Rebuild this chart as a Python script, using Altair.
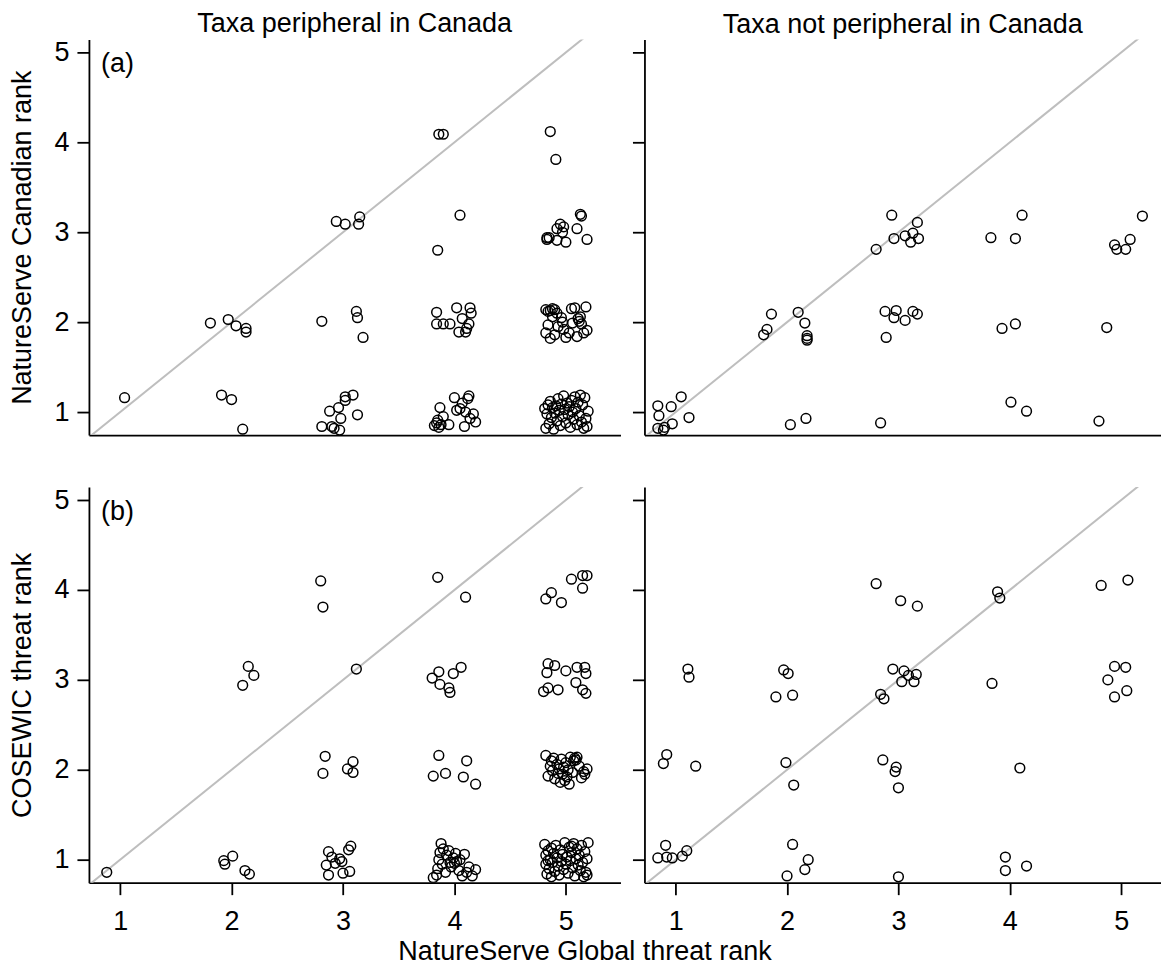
import altair as alt
import pandas as pd

FONT = "Liberation Sans"
FS = 27

# ---------------- data (jittered ranks) ----------------
# (a) Taxa peripheral in Canada : NatureServe Global (x) vs NatureServe Canadian (y)
a_per_x = [1.04,
           1.81, 1.97, 2.04, 2.13, 2.13, 1.91, 2.00, 2.10,
           2.94, 3.02, 3.14, 3.15, 2.81, 3.12, 3.13, 3.18,
           3.02, 3.09, 3.02, 2.96, 2.88, 2.98, 3.13, 2.81, 2.90, 2.92, 2.97,
           3.86, 3.90, 4.05, 3.85,
           3.84, 4.02, 4.14, 4.15, 4.07, 3.96, 3.84, 3.90, 4.13, 4.11, 4.04, 4.10,
           3.82, 3.84, 3.86, 3.85, 3.88, 3.90, 3.87, 3.95, 4.00, 4.02, 4.05, 4.07, 4.10, 4.12, 4.13, 4.14, 4.17, 4.09, 4.19,
           4.86, 4.91,
           5.13, 5.14, 4.95, 4.98, 4.92, 5.10, 4.83, 4.83, 4.92, 5.00, 5.19, 4.85, 4.97,
           4.82, 4.84, 4.86, 4.88, 4.90, 4.92, 4.88, 4.84, 4.82, 4.86, 4.90, 4.93, 4.96, 4.98, 5.00, 5.03, 5.06, 5.05, 5.08, 5.11,
           5.12, 5.13, 5.14, 5.16, 5.18, 5.19, 5.10, 4.97,
           4.81, 4.83, 4.82, 4.84, 4.85, 4.86, 4.87, 4.88, 4.89, 4.90, 4.91, 4.92, 4.93, 4.94, 4.95, 4.96, 4.97, 4.98, 4.99, 5.00,
           5.01, 5.02, 5.03, 5.04, 5.05, 5.06, 5.07, 5.08, 5.09, 5.10, 5.11, 5.12, 5.13, 5.14, 5.15, 5.16, 5.17, 5.18, 5.19, 5.20]
a_per_y = [1.16,
           1.99, 2.03, 1.96, 1.93, 1.89, 1.19, 1.14, 0.81,
           3.12, 3.09, 3.09, 3.17, 2.01, 2.12, 2.05, 1.83,
           1.17, 1.19, 1.13, 1.05, 1.01, 0.93, 0.97, 0.84, 0.84, 0.82, 0.80,
           4.09, 4.09, 3.19, 2.80,
           2.11, 2.16, 2.16, 2.10, 2.04, 1.98, 1.98, 1.98, 1.98, 1.93, 1.89, 1.89,
           0.85, 0.88, 0.83, 0.91, 0.86, 0.95, 1.05, 0.86, 1.16, 1.02, 1.04, 1.10, 1.00, 1.15, 1.18, 0.93, 0.98, 0.84, 0.89,
           4.12, 3.81,
           3.20, 3.18, 3.09, 3.06, 3.04, 3.04, 2.94, 2.92, 2.91, 2.89, 2.92, 2.94, 3.00,
           2.14, 2.12, 2.13, 2.15, 2.14, 2.10, 2.06, 1.97, 1.88, 1.82, 1.86, 1.95, 2.05, 1.92, 1.83, 1.88, 1.99, 2.15, 2.16, 2.04,
           2.01, 2.06, 1.98, 1.88, 2.17, 1.91, 1.84, 2.00,
           1.04, 0.98, 0.82, 1.08, 0.87, 1.12, 0.94, 1.05, 0.81, 0.99, 1.07, 0.90, 1.15, 1.02, 0.85, 1.09, 0.95, 1.18, 1.03, 0.88,
           1.10, 0.97, 1.06, 0.83, 1.13, 1.00, 0.92, 1.17, 1.04, 0.86, 1.11, 0.96, 1.19, 0.89, 1.08, 0.82, 1.16, 0.93, 0.84, 1.01]

# (a) Taxa not peripheral in Canada
a_not_x = [0.84, 0.85, 0.96, 1.05, 1.12, 0.97, 0.84, 0.89, 0.90,
           1.86, 1.82, 1.79, 2.10, 2.16, 2.18, 2.18, 2.18, 2.03, 2.17,
           2.94, 3.17, 2.80, 2.96, 3.06, 3.13, 3.11, 3.18,
           2.88, 2.98, 2.96, 3.06, 3.13, 3.17, 2.89, 2.84,
           3.83, 4.05, 4.11, 3.93, 4.05, 4.01, 4.15,
           4.87, 4.80, 4.94, 4.96, 5.04, 5.08, 5.19]
a_not_y = [1.07, 0.96, 1.06, 1.17, 0.94, 0.87, 0.82, 0.80, 0.83,
           2.09, 1.92, 1.86, 2.11, 1.99, 1.85, 1.80, 1.82, 0.86, 0.93,
           3.19, 3.11, 2.81, 2.93, 2.96, 2.99, 2.89, 2.93,
           2.12, 2.13, 2.05, 2.02, 2.12, 2.09, 1.83, 0.88,
           2.94, 2.93, 3.19, 1.93, 1.98, 1.11, 1.01,
           1.94, 0.90, 2.86, 2.81, 2.81, 2.92, 3.18]

# (b) Taxa peripheral in Canada : NatureServe Global (x) vs COSEWIC (y)
b_per_x = [0.88,
           2.80, 2.82, 2.15, 2.20, 2.10, 3.12,
           2.84, 2.82, 3.04, 3.09, 3.09,
           1.93, 1.94, 2.01, 2.12, 2.16,
           2.87, 2.90, 2.85, 2.87, 2.97, 2.99, 3.00, 3.06, 3.07, 3.05, 2.93,
           3.85, 4.10,
           3.86, 4.06, 3.99, 3.80, 3.87, 3.95, 3.96,
           3.86, 4.11, 3.81, 3.92, 4.08, 4.19,
           3.81, 3.84, 3.85, 3.86, 3.87, 3.88, 3.89, 3.90, 3.92, 3.93, 3.95, 3.96, 3.97, 3.99, 4.00, 4.01, 4.02, 4.04, 4.05, 4.07,
           4.09, 4.11, 4.13, 4.16, 4.19,
           4.82, 4.87, 4.96, 5.05, 5.15, 5.19, 5.15,
           4.84, 4.90, 4.83, 5.00, 5.10, 5.17, 5.18, 4.80, 4.84, 4.93, 5.09, 5.15, 5.18,
           4.82, 4.84, 4.86, 4.87, 4.88, 4.89, 4.90, 4.92, 4.93, 4.94, 4.95, 4.96, 4.97, 4.98, 4.99, 5.00, 5.01, 5.02, 5.03, 5.04,
           5.06, 5.07, 5.08, 5.09, 5.10, 5.12, 5.14, 5.16, 5.17, 5.19,
           4.81, 4.82, 4.82, 4.83, 4.84, 4.85, 4.86, 4.87, 4.87, 4.88, 4.89, 4.90, 4.91, 4.92, 4.93, 4.94, 4.95, 4.96, 4.97, 4.98,
           4.99, 5.00, 5.01, 5.02, 5.03, 5.04, 5.05, 5.06, 5.07, 5.08, 5.09, 5.10, 5.11, 5.12, 5.13, 5.14, 5.15, 5.16, 5.17, 5.18,
           5.19, 5.19, 5.20, 4.84, 5.05]
b_per_y = [0.86,
           4.10, 3.81, 3.15, 3.05, 2.94, 3.12,
           2.15, 1.96, 2.01, 2.09, 1.97,
           0.99, 0.95, 1.04, 0.88, 0.84,
           1.09, 1.03, 0.94, 0.83, 1.01, 0.98, 0.85, 0.87, 1.15, 1.11, 0.96,
           4.14, 3.92,
           3.09, 3.14, 3.07, 3.02, 2.95, 2.91, 2.86,
           2.16, 2.10, 1.93, 1.96, 1.92, 1.84,
           0.80, 0.83, 0.90, 1.00, 1.08, 1.18, 0.95, 1.12, 0.86, 1.05, 1.10, 0.97, 0.92, 1.02, 0.96, 1.07, 0.98, 0.88, 1.00, 0.82,
           1.06, 0.86, 0.92, 0.82, 0.89,
           3.90, 3.97, 3.86, 4.12, 4.16, 4.16, 4.02,
           3.18, 3.16, 3.08, 3.10, 3.14, 3.14, 3.07, 2.87, 2.91, 2.89, 2.97, 2.89, 2.85,
           2.16, 1.93, 2.04, 2.10, 1.99, 2.13, 1.90, 2.06, 1.96, 2.01, 1.86, 2.12, 1.95, 2.03, 1.88, 2.08, 1.92, 2.00, 1.84, 2.14,
           1.97, 2.10, 2.13, 2.11, 2.14, 2.04, 1.91, 1.98, 1.95, 2.01,
           1.17, 0.95, 1.05, 0.84, 1.10, 0.90, 1.00, 1.13, 0.81, 0.97, 1.07, 0.87, 1.16, 1.02, 0.93, 0.83, 1.11, 0.98, 1.06, 0.89,
           1.19, 0.95, 1.03, 0.85, 1.14, 0.99, 1.08, 0.91, 1.18, 0.82, 1.01, 1.12, 0.94, 1.05, 0.88, 1.16, 0.97, 0.81, 1.09, 0.86,
           1.01, 0.83, 1.19, 0.99, 1.15]

# (b) Taxa not peripheral in Canada
b_not_x = [0.84, 0.92, 0.97, 1.06, 1.10, 0.91,
           0.89, 0.92, 1.18, 1.11, 1.12,
           1.97, 2.01, 1.90, 2.05, 1.99, 2.06, 2.05, 2.19, 2.16, 2.00,
           2.80, 3.02, 3.17,
           2.95, 3.05, 3.09, 3.16, 3.03, 3.14, 2.84, 2.87,
           2.86, 2.98, 2.97, 3.00, 3.00,
           3.89, 3.91, 3.84, 4.09, 3.96, 4.15, 3.96,
           4.82, 5.06, 4.94, 5.04, 4.88, 4.94, 5.05]
b_not_y = [1.02, 1.03, 1.02, 1.04, 1.10, 1.16,
           2.07, 2.17, 2.04, 3.12, 3.03,
           3.11, 3.07, 2.81, 2.83, 2.08, 1.83, 1.17, 1.00, 0.89, 0.82,
           4.07, 3.88, 3.82,
           3.12, 3.10, 3.05, 3.06, 2.98, 2.98, 2.84, 2.79,
           2.11, 2.03, 1.98, 1.80, 0.81,
           3.98, 3.91, 2.96, 2.02, 1.03, 0.93, 0.88,
           4.05, 4.11, 3.15, 3.14, 3.00, 2.81, 2.88]

ticks = [1, 2, 3, 4, 5]
titles_top = ["Taxa peripheral in Canada", "Taxa not peripheral in Canada"]
y_titles = ["NatureServe Canadian rank", "COSEWIC threat rank"]
x_title = "NatureServe Global threat rank"
panel_tags = ["(a)", "(b)"]

Y_DOMAIN = [0.745, 5.145]
X_MIN = 0.72


def panel(xs, ys, tag, show_x, left, width, x_max, top_title=None, y_title=None):
    df = pd.DataFrame({"x": xs, "y": ys})
    xscale = alt.Scale(domain=[X_MIN, x_max], nice=False, zero=False)
    yscale = alt.Scale(domain=Y_DOMAIN, nice=False, zero=False)
    if show_x:
        xaxis = alt.Axis(values=ticks, format="d", tickSize=12, labelPadding=14, grid=False,
                         title=None, labelFlush=False)
    else:
        xaxis = alt.Axis(values=ticks, ticks=False, labels=False, grid=False, title=None)
    if left:
        yaxis = alt.Axis(values=ticks, format="d", tickSize=12, labelPadding=8, grid=False,
                         title=y_title, titlePadding=17, labelFlush=False)
    else:
        yaxis = alt.Axis(values=ticks, labels=False, tickSize=12, grid=False, title=None)

    pts = alt.Chart(df).mark_point(shape="circle", filled=False, color="black", size=95,
                                   strokeWidth=1.5, opacity=1, clip=True).encode(
        x=alt.X("x:Q", scale=xscale, axis=xaxis),
        y=alt.Y("y:Q", scale=yscale, axis=yaxis),
    )
    diag_df = pd.DataFrame({"x": [X_MIN], "y": [X_MIN], "x2": [x_max], "y2": [x_max]})
    diag = alt.Chart(diag_df).mark_rule(color="#BEBEBE", strokeWidth=2, clip=True).encode(
        x=alt.X("x:Q", scale=xscale), y=alt.Y("y:Q", scale=yscale),
        x2="x2:Q", y2="y2:Q",
    )
    layers = [diag, pts]
    if tag:
        tag_df = pd.DataFrame({"t": [tag]})
        txt = alt.Chart(tag_df).mark_text(align="left", baseline="middle", fontSize=FS,
                                          font=FONT, color="black").encode(
            x=alt.value(12), y=alt.value(25), text="t:N")
        layers.append(txt)
    ch = alt.layer(*layers).properties(width=width, height=396)
    if top_title:
        ch = ch.properties(title=alt.TitleParams(top_title, fontSize=FS, font=FONT, fontWeight="normal",
                                                 anchor="middle", offset=0, color="black"))
    return ch


W_L, XMAX_L = 532, 5.49
W_R, XMAX_R = 517, 5.357

tl = panel(a_per_x, a_per_y, panel_tags[0], False, True, W_L, XMAX_L, titles_top[0], y_titles[0])
tr = panel(a_not_x, a_not_y, None, False, False, W_R, XMAX_R, titles_top[1])
bl = panel(b_per_x, b_per_y, panel_tags[1], True, True, W_L, XMAX_L, None, y_titles[1])
br = panel(b_not_x, b_not_y, None, True, False, W_R, XMAX_R)

row1 = alt.hconcat(tl, tr, spacing=11)
row2 = alt.hconcat(bl, br, spacing=11)

chart = alt.vconcat(row1, row2, spacing=51).properties(
    title=alt.TitleParams(x_title, orient="bottom", anchor="middle", fontSize=FS, font=FONT,
                          fontWeight="normal", offset=4, color="black"),
    padding={"left": 0, "top": 2, "right": 0, "bottom": 0},
).configure_view(stroke=None).configure_axis(
    domainColor="black", domainWidth=1.8, tickColor="black", tickWidth=1.8,
    labelColor="black", labelFont=FONT, labelFontSize=FS, titleFont=FONT, titleFontSize=FS,
    titleFontWeight="normal", titleColor="black", labelAngle=0,
).configure_axisY(labelAngle=0)

chart.save("out.html", embed_options={"renderer": "svg", "actions": False})
